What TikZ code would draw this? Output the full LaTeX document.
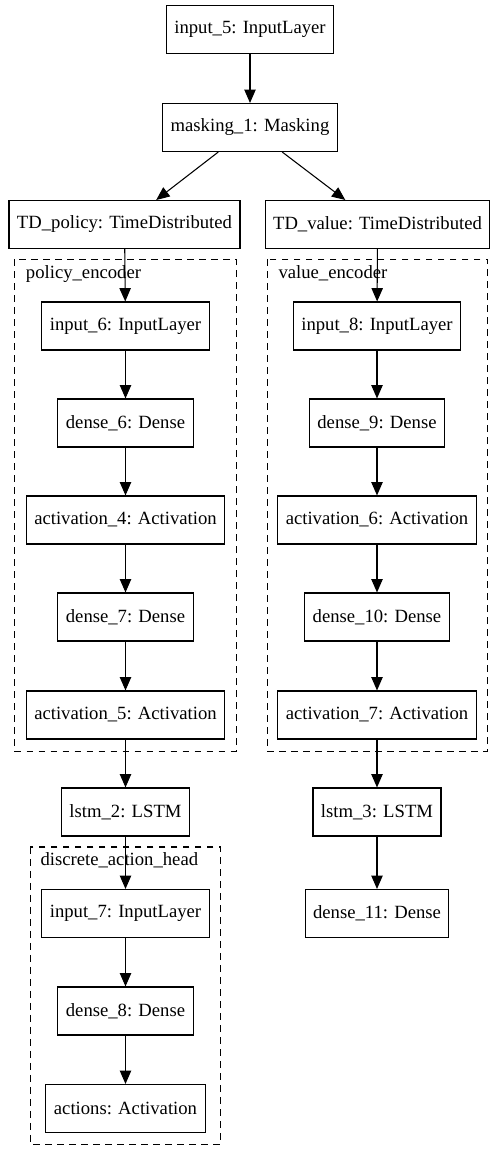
\documentclass[tikz,border=0pt]{standalone}
\usepackage{fontspec}
\setmainfont{Liberation Serif}
\usetikzlibrary{
		arrows.meta,
		calc
	}
\tikzset{
		>={Triangle[length=10pt,width=8.5pt]},
		layer/.style={draw, rectangle, line width=0.8pt, minimum height=36pt,
			inner xsep=6pt, inner ysep=0pt, font=\fontsize{14}{16}\selectfont},
		cluster/.style={draw, line width=0.8pt, dash pattern=on 5pt off 4pt},
		clabel/.style={anchor=base west, inner sep=0pt, font=\fontsize{14}{16}\selectfont},
		link/.style={->, line width=0.8pt}
	}

\begin{document}
\begin{tikzpicture}[x=0.75pt, y=-0.75pt]
            \useasboundingbox (0,0) rectangle (503,1160);

            % shared trunk
            \node[layer] (in5)  at (250,29.5)   {input\_5: InputLayer};
            \node[layer] (mask) at (250,127.5)  {masking\_1: Masking};
            \node[layer] (tdp)  at (124.5,224.5) {TD\_policy: TimeDistributed};
            \node[layer] (tdv)  at (377.5,224.5) {TD\_value: TimeDistributed};

            % policy branch
            \node[layer] (in6)  at (125.5,326)    {input\_6: InputLayer};
            \node[layer] (d6)   at (125.5,423)    {dense\_6: Dense};
            \node[layer] (act4) at (125.5,520)    {activation\_4: Activation};
            \node[layer] (d7)   at (125.5,617)    {dense\_7: Dense};
            \node[layer] (act5) at (125.5,715)    {activation\_5: Activation};
            \node[layer] (lstm2) at (125.5,812)   {lstm\_2: LSTM};
            \node[layer] (in7)  at (125.5,913.5)  {input\_7: InputLayer};
            \node[layer] (d8)   at (125.5,1011)   {dense\_8: Dense};
            \node[layer] (acts) at (125.5,1108.5) {actions: Activation};

            % value branch
            \node[layer] (in8)  at (377,326)   {input\_8: InputLayer};
            \node[layer] (d9)   at (377,423)   {dense\_9: Dense};
            \node[layer] (act6) at (377,520)   {activation\_6: Activation};
            \node[layer] (d10)  at (377,617)   {dense\_10: Dense};
            \node[layer] (act7) at (377,715)   {activation\_7: Activation};
            \node[layer] (lstm3) at (377,812)  {lstm\_3: LSTM};
            \node[layer] (d11)  at (377,913.5) {dense\_11: Dense};

            % sub-models
            \draw[cluster] ($(in6.north -| act5.west)+(-11,-42)$) rectangle ($(act5.south east)+(11,12)$);
            \node[clabel] (penc) at ($(in6.north -| act5.west)+(0,-23)$) {policy\_encoder};
            \draw[cluster] ($(in8.north -| act7.west)+(-10,-42)$) rectangle ($(act7.south east)+(11,12)$);
            \node[clabel] (venc) at ($(in8.north -| act7.west)+(1,-23)$) {value\_encoder};
            \draw[cluster] ($(in7.north west)+(-11,-42)$) rectangle ($(in7.east |- acts.south)+(11,11)$);
            \node[clabel] (dhead) at ($(in7.north west)+(-1,-23)$) {discrete\_action\_head};

            % edges
            \draw[link] (in5) -- (mask);
            \draw[link] (mask) -- (tdp);
            \draw[link] (mask) -- (tdv);
            \draw[link] (tdp) -- (in6);
            \draw[link] (in6) -- (d6);
            \draw[link] (d6) -- (act4);
            \draw[link] (act4) -- (d7);
            \draw[link] (d7) -- (act5);
            \draw[link] (act5) -- (lstm2);
            \draw[link] (lstm2) -- (in7);
            \draw[link] (in7) -- (d8);
            \draw[link] (d8) -- (acts);
            \draw[link] (tdv) -- (in8);
            \draw[link] (in8) -- (d9);
            \draw[link] (d9) -- (act6);
            \draw[link] (act6) -- (d10);
            \draw[link] (d10) -- (act7);
            \draw[link] (act7) -- (lstm3);
            \draw[link] (lstm3) -- (d11);

        \end{tikzpicture}
\end{document}
